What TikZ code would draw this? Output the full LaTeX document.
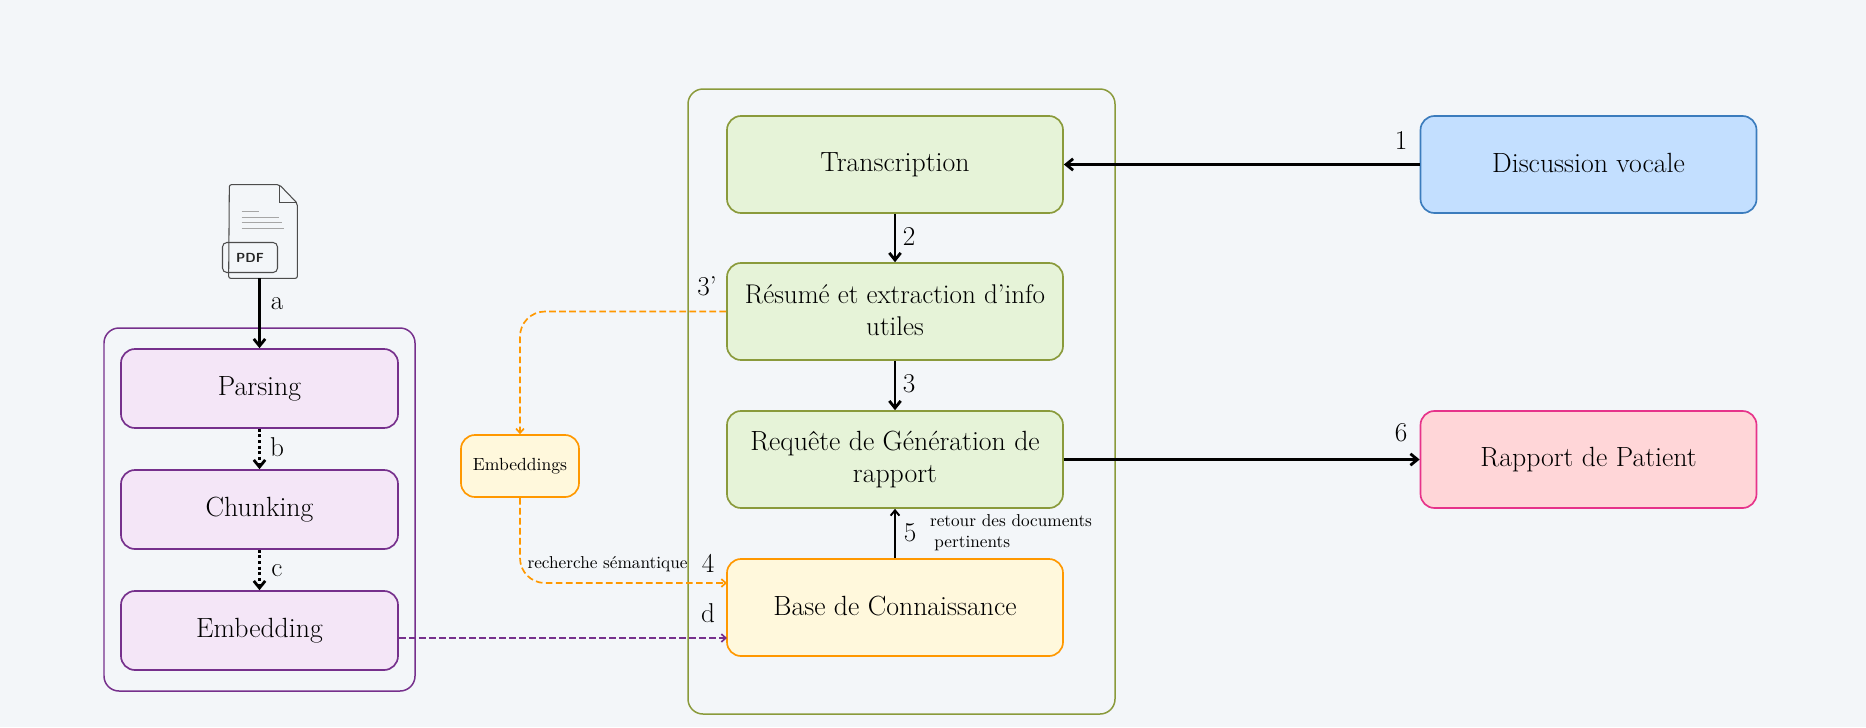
\documentclass[tikz,border=0pt]{standalone}
\usepackage{amsmath}
\usepackage{tikz}
\usetikzlibrary{arrows.meta}

\definecolor{pagebg}{HTML}{F3F6F9}
\definecolor{greenfill}{HTML}{E6F3D8}
\definecolor{greenline}{HTML}{8A9A3B}
\definecolor{bluefill}{HTML}{C3DFFF}
\definecolor{blueline}{HTML}{3B7CBD}
\definecolor{pinkfill}{HTML}{FFD6D8}
\definecolor{pinkline}{HTML}{E6338A}
\definecolor{yellowfill}{HTML}{FFF8DC}
\definecolor{orangeline}{HTML}{FF9800}
\definecolor{purplefill}{HTML}{F4E6F7}
\definecolor{purpleline}{HTML}{76308C}

\tikzset{
	boxbase/.style={draw, line width=0.95pt, rounded corners=0.28cm, inner sep=0pt, align=center, font=\fontsize{15.8}{18}\selectfont},
	mainbox/.style={boxbase, minimum width=6.72cm, minimum height=1.94cm},
	stepbox/.style={boxbase, draw=purpleline, fill=purplefill, minimum width=5.54cm, minimum height=1.58cm},
	groupbox/.style={draw, line width=0.85pt, rounded corners=0.3cm, minimum width=#1},
	numlabel/.style={inner sep=0pt, font=\fontsize{15.5}{18}\selectfont},
	smalllabel/.style={inner sep=0pt, font=\fontsize{9.8}{12}\selectfont},
	strong/.style={line width=1.6pt, -{Straight Barb[length=4pt,width=6.5pt]}},
	thin arrow/.style={line width=1.1pt, -{Straight Barb[length=3pt,width=5pt]}},
	dotted arrow/.style={line width=1.6pt, dash pattern=on 1.6pt off 1.6pt, -{Straight Barb[length=4pt,width=6.5pt]}},
	dash arrow/.style={line width=0.95pt, dash pattern=on 3.8pt off 1.9pt, -{Straight Barb[length=2.5pt,width=4.5pt]}}
}

\begin{document}
\begin{tikzpicture}
	
	\fill[pagebg] (0,0) rectangle (37.32,-14.54);
	\useasboundingbox (0,0) rectangle (37.32,-14.54);
	
	% groups
	\node[groupbox=8.54cm, draw=greenline, minimum height=12.5cm] (pipeline) at (18.03,-8.03) {};
	\node[groupbox=6.22cm, draw=purpleline, minimum height=7.26cm] (ingest) at (5.19,-10.19) {};
	
	% main column
	\node[mainbox, draw=greenline, fill=greenfill] (transcription) at (17.9,-3.29) {\raisebox{1pt}{Transcription}};
	\node[mainbox, draw=greenline, fill=greenfill, font=\fontsize{15.4}{18}\selectfont] (resume) at (17.9,-6.23) {\raisebox{1.5pt}{Résumé et extraction d’info}\\\raisebox{1.5pt}{utiles}};
	\node[mainbox, draw=greenline, fill=greenfill] (requete) at (17.9,-9.19) {Requête de Génération de\\rapport};
	\node[mainbox, draw=orangeline, fill=yellowfill] (base) at (17.9,-12.15) {\raisebox{1.5pt}{Base de Connaissance}};
	
	% right column
	\node[mainbox, draw=blueline, fill=bluefill] (discussion) at (31.77,-3.29) {\raisebox{1.5pt}{Discussion vocale}};
	\node[mainbox, draw=pinkline, fill=pinkfill] (rapport) at (31.77,-9.19) {\raisebox{1.5pt}{Rapport de Patient}};
	
	% left column
	\node[stepbox] (parsing) at (5.19,-7.77) {\raisebox{0.5pt}{Parsing}};
	\node[stepbox] (chunking) at (5.19,-10.19) {\raisebox{1.5pt}{Chunking}};
	\node[stepbox] (embedding) at (5.19,-12.61) {Embedding};
	
	\node[boxbase, draw=orangeline, fill=yellowfill, minimum width=2.36cm, minimum height=1.24cm, font=\fontsize{10}{12}\selectfont] (embeddings) at (10.4,-9.32) {Embeddings};
	
	% pdf file
	\node[minimum width=1.36cm, minimum height=1.86cm, inner sep=0pt] (pdfdoc) at (5.26,-4.63) {};
	\draw[line width=0.6pt, draw=black!70, rounded corners=1.2pt] (pdfdoc.north east) ++(-0.36,0) -- ++(-1.0,0) -- (pdfdoc.south west) -- (pdfdoc.south east) -- ++(0,1.5) -- cycle;
	\draw[line width=0.6pt, draw=black!70] (pdfdoc.north east) ++(-0.36,0) -- ++(0,-0.36) -- ++(0.36,0);
	\foreach \ypos/\xlen in {-0.54/0.35,-0.65/0.75,-0.76/0.8,-0.87/0.85}
		\draw[line width=0.4pt, draw=black!35] (pdfdoc.north west) ++(0.26,\ypos) -- ++(\xlen,0);
	\node[draw=black!70, line width=0.6pt, rounded corners=2.5pt, minimum width=1.1cm, minimum height=0.6cm, inner sep=0pt, font=\sffamily\bfseries\fontsize{7.5}{8}\selectfont, text=black!85] (pdftag) at (5.0,-5.15) {PDF};
	
	% arrows
	\coordinate (tip4) at (14.54,-11.66);
	\coordinate (tipd) at (14.54,-12.76);
	
	\draw[strong] (discussion) -- (transcription);
	\draw[strong] (transcription) -- (resume);
	\draw[strong] (resume) -- (requete);
	\draw[strong] (requete) -- (rapport);
	\draw[thin arrow] (base) -- (requete);
	\draw[strong] (pdfdoc.south -| parsing.north) -- (parsing.north);
	\draw[dotted arrow] (parsing) -- (chunking);
	\draw[dotted arrow] (chunking) -- (embedding);
	\draw[dash arrow, draw=orangeline, rounded corners=0.5cm] (resume.west) -| (embeddings.north);
	\draw[dash arrow, draw=orangeline, rounded corners=0.5cm] (embeddings.south) |- (tip4);
	\draw[dash arrow, draw=purpleline] (embedding.east |- tipd) -- (tipd);
	
	% labels
	\node[numlabel] (n1) at (28.02,-2.8) {1};
	\node[numlabel] (n2) at (18.18,-4.72) {2};
	\node[numlabel] (n3b) at (14.14,-5.72) {3'};
	\node[numlabel] (n3) at (18.18,-7.68) {3};
	\node[numlabel] (n4) at (14.16,-11.26) {4};
	\node[numlabel] (nd) at (14.16,-12.26) {d};
	\node[numlabel] (n5) at (18.2,-10.66) {5};
	\node[numlabel] (n6) at (28.02,-8.66) {6};
	\node[numlabel] (na) at (5.54,-6.08) {a};
	\node[numlabel] (nb) at (5.54,-8.94) {b};
	\node[numlabel] (nc) at (5.54,-11.41) {c};
	\node[smalllabel] (recherche) at (12.15,-11.28) {recherche sémantique};
	\node[smalllabel, align=left] (retour) at (20.22,-10.66) {retour des documents\\\hspace{2.5pt}pertinents};
	
\end{tikzpicture}
\end{document}
